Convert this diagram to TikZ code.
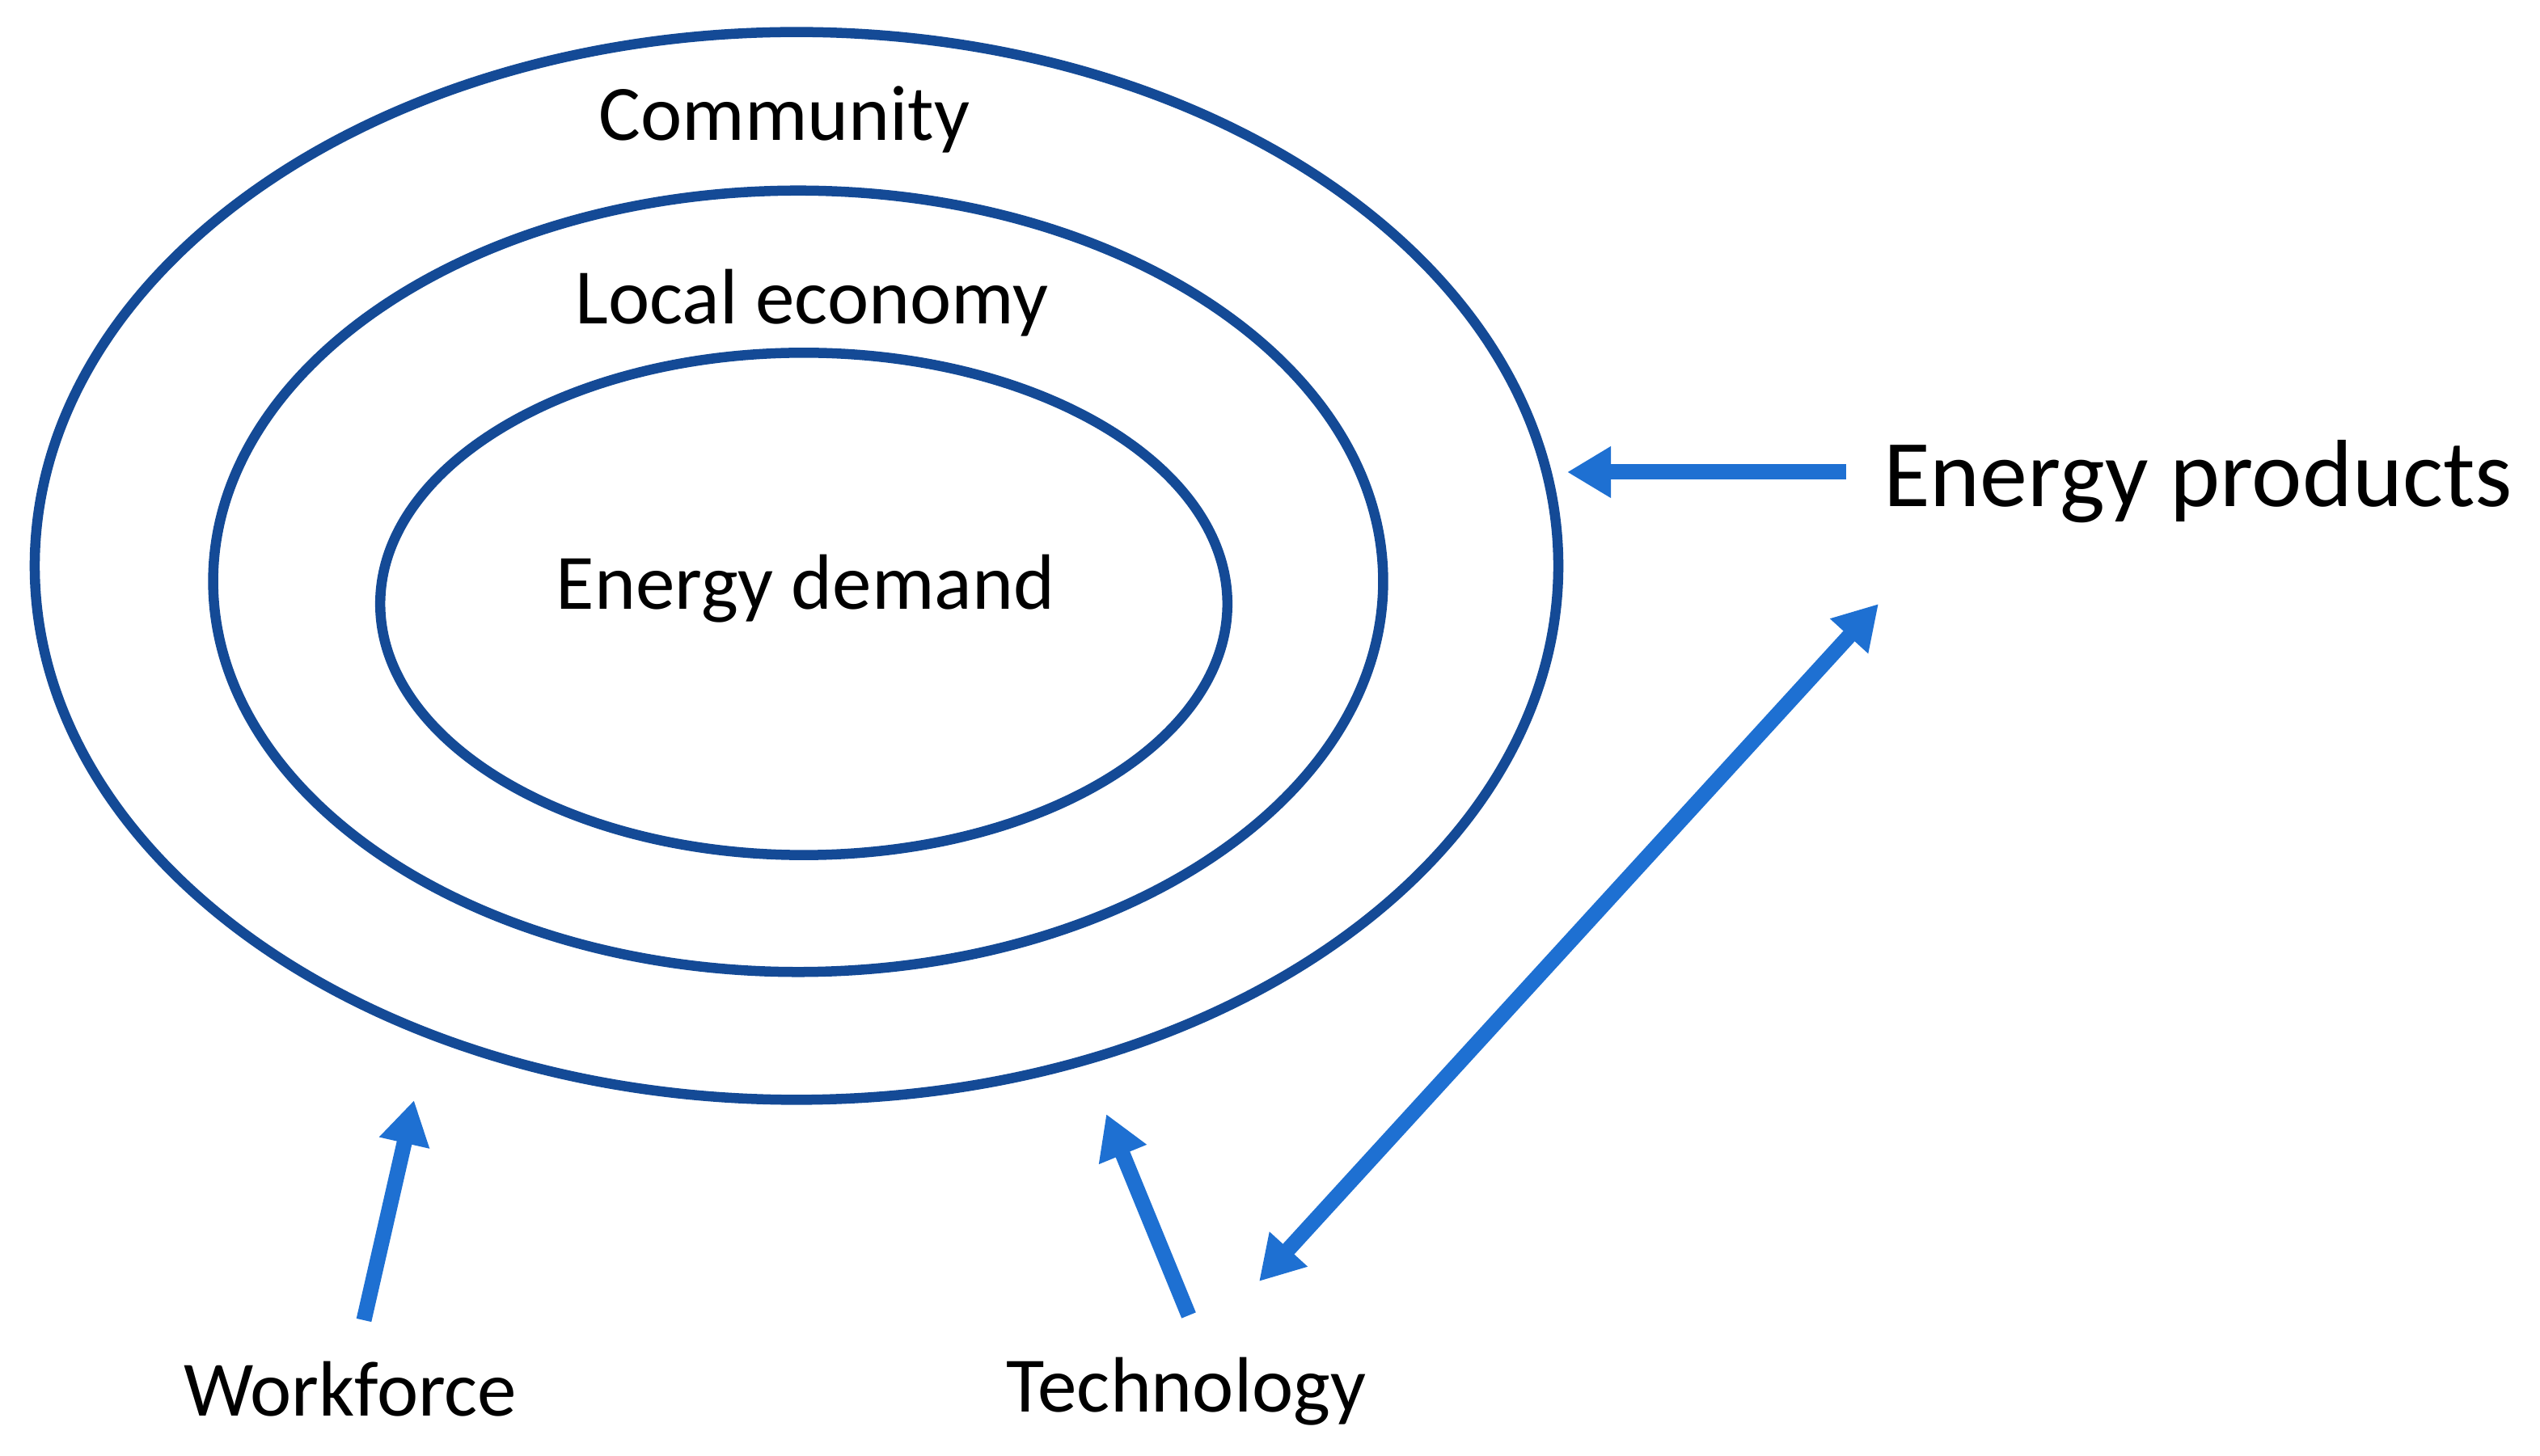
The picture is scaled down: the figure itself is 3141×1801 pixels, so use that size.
\documentclass[tikz,border=0pt]{standalone}
\usepackage{fontspec}
\setmainfont{Carlito}
\usetikzlibrary{shapes.geometric,arrows.meta}
\definecolor{ringblue}{RGB}{20,74,150}
\definecolor{arrowblue}{RGB}{30,112,210}
\tikzset{
  ring/.style={draw=ringblue, line width=0.125cm, ellipse, inner sep=0pt, outer sep=0pt},
  lbl/.style={inner sep=0pt, anchor=base, font=\fontsize{27.6pt}{33pt}\selectfont},
  biglbl/.style={inner sep=0pt, anchor=base, font=\fontsize{33.6pt}{40pt}\selectfont},
  flow/.style={draw=arrowblue, line width=0.19cm, -{Triangle[length=0.54cm,width=0.6cm]}},
  flow2/.style={draw=arrowblue, line width=0.19cm, {Triangle[length=0.54cm,width=0.6cm]}-{Triangle[length=0.54cm,width=0.6cm]}}
}
\begin{document}
\begin{tikzpicture}[x=0.01cm, y=-0.01cm]
\useasboundingbox (0,0) rectangle (3141,1801);
% rings
\node[ring, minimum width=18.83cm, minimum height=13.2cm] (outer) at (985,700) {};
\node[ring, minimum width=14.46cm, minimum height=9.66cm] (middle) at (987,719) {};
\node[ring, minimum width=10.47cm, minimum height=6.21cm] (inner) at (994,747) {};
% labels
\node[lbl] (community) at (970,174) {Community};
\node[lbl] (local) at (1004,401) {Local economy};
\node[lbl] (demand) at (996,754) {Energy demand};
\node[biglbl] (products) at (2718,627) {Energy products};
\node[lbl] (workforce) at (433,1751) {Workforce};
\node[lbl] (technology) at (1467,1746) {Technology};
% arrow ends
\coordinate (prodtail) at (2283,584);
\coordinate (prodtip) at (1938,584);
\coordinate (diagA) at (2323,747);
\coordinate (diagB) at (1557,1585);
\coordinate (worktail) at (450,1633);
\coordinate (worktip) at (512,1361);
\coordinate (techtail) at (1470,1627);
\coordinate (techtip) at (1368,1378);
% connectors
\draw[flow] (prodtail) -- (prodtip);
\draw[flow2] (diagB) -- (diagA);
\draw[flow] (worktail) -- (worktip);
\draw[flow] (techtail) -- (techtip);
\end{tikzpicture}
\end{document}
